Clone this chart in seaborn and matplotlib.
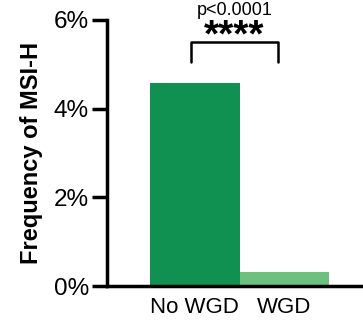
import matplotlib
matplotlib.use("Agg")
import matplotlib.pyplot as plt
import pandas as pd
import seaborn as sns

groups = ["No WGD", "WGD"]
msi_freq = [4.58, 0.32]  # percent
bar_colors = ["#109151", "#6cc17f"]
y_ticks = [0, 2, 4, 6]
p_label = "p<0.0001"
stars = "****"


def main():
    sns.set_style("ticks")
    plt.rcParams["font.family"] = ["Liberation Sans", "DejaVu Sans"]
    plt.rcParams["text.color"] = "black"
    plt.rcParams["axes.labelcolor"] = "black"
    plt.rcParams["xtick.color"] = "black"
    plt.rcParams["ytick.color"] = "black"

    df = pd.DataFrame({"group": groups, "freq": msi_freq})

    fig = plt.figure(figsize=(3.63, 3.2), dpi=100)
    ax = fig.add_axes([0.295, 0.106, 0.705, 0.832])
    sns.barplot(
        data=df,
        x="group",
        y="freq",
        hue="group",
        palette=bar_colors,
        saturation=1,
        width=1.0,
        linewidth=0,
        legend=False,
        ax=ax,
    )
    ax.set_xlim(-0.98, 1.88)
    ax.set_ylim(0, 6)
    ax.set_yticks(y_ticks)
    ax.set_yticklabels([f"{t}%" for t in y_ticks])
    ax.set_xlabel("")
    ax.set_ylabel("Frequency of MSI-H", fontsize=17, fontweight="bold", labelpad=8)
    sns.despine(ax=ax)
    for side in ("left", "bottom"):
        ax.spines[side].set_linewidth(2.5)
        ax.spines[side].set_color("black")
    ax.tick_params(axis="y", length=11, width=2.5, labelsize=17.5, pad=2)
    ax.tick_params(axis="x", length=0, labelsize=16, pad=8)

    # significance bracket
    x0, x1 = -0.04, 0.93
    y_low, y_high = 5.05, 5.5
    ax.plot([x0, x0, x1, x1], [y_low, y_high, y_high, y_low],
            color="black", lw=1.8, clip_on=False)
    xm = (x0 + x1) / 2
    ax.text(xm, 5.4, stars, ha="center", va="baseline", fontsize=28,
            fontweight="bold", clip_on=False)
    ax.text(xm, 6.02, p_label, ha="center", va="bottom", fontsize=13,
            clip_on=False)

    fig.savefig("out.png", dpi=100)


if __name__ == "__main__":
    main()
